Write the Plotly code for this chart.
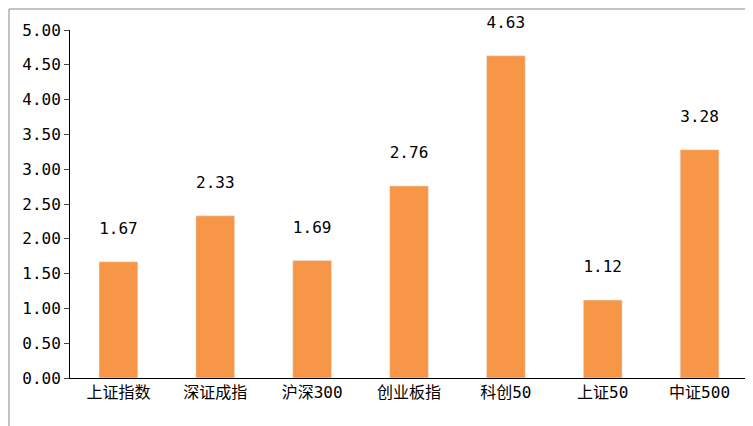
import plotly.graph_objects as go

categories = ["上证指数", "深证成指", "沪深300", "创业板指", "科创50", "上证50", "中证500"]
values = [1.67, 2.33, 1.69, 2.76, 4.63, 1.12, 3.28]
tick_vals = [0, 0.5, 1, 1.5, 2, 2.5, 3, 3.5, 4, 4.5, 5]
tick_text = ["%.2f" % v for v in tick_vals]

fig = go.Figure(go.Bar(
    x=categories, y=values, marker_color="#F79646",
    text=["%.2f<br> " % v for v in values], textposition="outside",
    textfont=dict(size=16, color="black"), cliponaxis=False,
))
fig.update_layout(
    width=753, height=426,
    margin=dict(l=62, r=13, t=22, b=56, autoexpand=False),
    paper_bgcolor="white", plot_bgcolor="white",
    font=dict(family="DejaVu Sans Mono, Noto Sans CJK SC", size=16, color="black"),
    bargap=0.6, showlegend=False,
    shapes=[dict(type="rect", xref="paper", yref="paper", x0=-61/678, x1=1+12/678,
                 y0=-55/348, y1=1+21/348, line=dict(color="#888888", width=1))],
)
fig.update_yaxes(range=[0, 5], tickvals=tick_vals, ticktext=tick_text, showgrid=False,
                 showline=True, linecolor="black", ticks="outside", ticklen=5, zeroline=False)
fig.update_xaxes(showline=True, linecolor="black", ticks="", showgrid=False)
fig.write_html("out.html")
